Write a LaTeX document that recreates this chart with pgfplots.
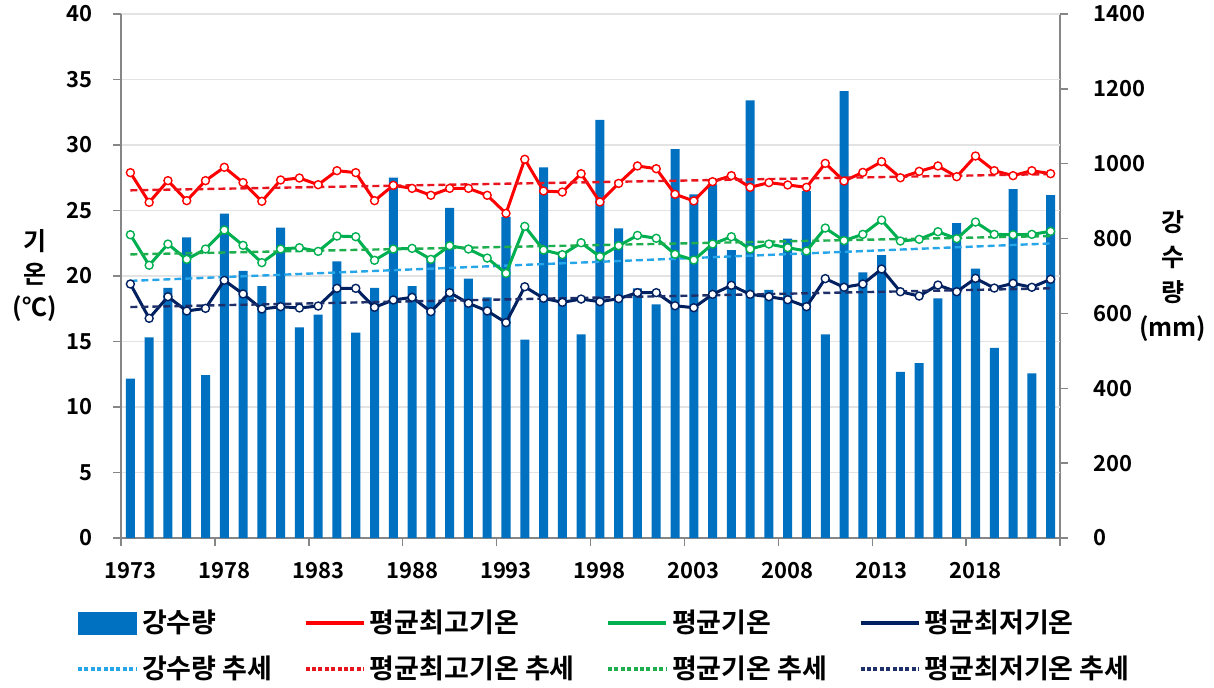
\documentclass[border=0pt]{standalone}
\usepackage{pgfplots}
\pgfplotsset{compat=1.18}
\usepackage{pgfplotstable}
\usepackage{fontspec}
\setmainfont{Noto Sans CJK KR}[BoldFont={Noto Sans CJK KR Bold}]
\definecolor{barblue}{HTML}{0070C0}
\definecolor{cmax}{HTML}{FF0000}
\definecolor{cavg}{HTML}{00B050}
\definecolor{cmin}{HTML}{002060}
\definecolor{trlb}{HTML}{26A5E8}
\definecolor{trmax}{HTML}{E8141E}
\definecolor{travg}{HTML}{1FAE4E}
\definecolor{trmin}{HTML}{1F2F6A}
\definecolor{axisgray}{HTML}{868686}
\definecolor{gridgray}{HTML}{E3E3E3}
\newcommand\ticksfont{\bfseries\fontsize{11}{12}\selectfont}
\newcommand\legfont{\bfseries\fontsize{13.5}{15}\selectfont}

\pgfplotstableread{
year rain tmax tavg tmin
1973 426 27.89 23.15 19.39
1974 536 25.62 20.82 16.77
1975 668 27.28 22.44 18.42
1976 803 25.75 21.27 17.33
1977 435 27.28 22.06 17.53
1978 867 28.30 23.51 19.67
1979 714 27.13 22.34 18.63
1980 673 25.70 21.02 17.48
1981 829 27.33 22.06 17.66
1982 563 27.48 22.16 17.56
1983 597 26.97 21.88 17.71
1984 739 28.04 23.05 19.06
1985 549 27.89 23.00 19.06
1986 668 25.75 21.20 17.61
1987 963 26.92 22.06 18.17
1988 673 26.69 22.11 18.37
1989 748 26.16 21.27 17.28
1990 882 26.69 22.31 18.73
1991 693 26.69 22.06 17.92
1992 643 26.16 21.37 17.33
1993 858 24.78 20.20 16.44
1994 530 28.91 23.79 19.18
1995 990 26.49 21.98 18.30
1996 765 26.41 21.63 17.99
1997 544 27.81 22.54 18.24
1998 1117 25.65 21.48 18.04
1999 827 27.07 22.31 18.27
2000 667 28.40 23.10 18.73
2001 624 28.19 22.88 18.73
2002 1039 26.24 21.66 17.73
2003 918 25.73 21.22 17.58
2004 945 27.20 22.44 18.60
2005 769 27.66 23.00 19.29
2006 1169 26.77 22.06 18.60
2007 663 27.13 22.44 18.42
2008 800 26.95 22.16 18.19
2009 927 26.77 21.91 17.66
2010 544 28.60 23.66 19.80
2011 1194 27.25 22.70 19.14
2012 710 27.91 23.18 19.39
2013 756 28.73 24.27 20.53
2014 444 27.50 22.67 18.80
2015 467 27.99 22.80 18.47
2016 640 28.40 23.38 19.31
2017 841 27.58 22.85 18.80
2018 720 29.16 24.12 19.82
2019 508 28.04 23.18 19.08
2020 932 27.66 23.15 19.44
2021 440 28.04 23.18 19.14
2022 916 27.81 23.41 19.75
}\data

\pgfplotsset{
  common/.style={
    width=469.5pt, height=262pt, scale only axis,
    at={(0,0)}, anchor=south west,
    xmin=1972.5, xmax=2022.5,
    axis line style={draw=axisgray, line width=0.7pt},
    tick align=outside, major tick length=4pt,
    tick style={draw=axisgray, line width=0.7pt},
    /pgf/number format/assume math mode=true,
    /pgf/number format/1000 sep={},
  },
  tline/.style={line width=1.5pt, mark=*, mark size=2pt,
    mark options={fill=white, line width=0.7pt, solid}},
  trend/.style={line width=1.2pt, dash pattern=on 3.5pt off 2pt},
}

\begin{document}
\begin{tikzpicture}
% bars (right axis)
\begin{axis}[common, name=ax,
  ymin=0, ymax=1400,
  axis x line*=bottom, axis y line*=right,
  xtick={1972.5,1977.5,1982.5,1987.5,1992.5,1997.5,2002.5,2007.5,2012.5,2017.5,2022.5},
  xticklabels={1973,1978,1983,1988,1993,1998,2003,2008,2013,2018,{}},
  xticklabel style={xshift=4.69pt, yshift=-4.5pt, font=\ticksfont},
  ytick={0,200,...,1400},
  yticklabel style={font=\ticksfont, xshift=9pt},
  extra y ticks={175,350,525,700,875,1050,1225,1400},
  extra y tick labels={},
  extra y tick style={grid=major, major grid style={draw=gridgray, line width=0.7pt}, major tick length=0pt},
  ylabel={강\\수\\량\\(mm)},
  ylabel style={at={(axis description cs:1.12,0.5)}, rotate=-90, anchor=center, align=center,
    font=\bfseries\fontsize{12.5}{17.5}\selectfont},
]
\addplot[ybar, bar width=0.48, fill=barblue, draw=none] table[x=year,y=rain]{\data};
\addplot[trend, trlb] coordinates {(1973,687) (2022,787)};
\end{axis}
% lines (left axis)
\begin{axis}[common,
  ymin=0, ymax=40,
  axis y line*=left, axis x line=none,
  ytick={0,5,...,40},
  yticklabel style={font=\ticksfont, xshift=-6.5pt},
  ylabel={기\\온\\(℃)},
  ylabel style={at={(axis description cs:-0.092,0.5)}, rotate=-90, anchor=center, align=center,
    font=\bfseries\fontsize{12.5}{16.5}\selectfont},
  legend image code/.code={\draw[#1] (0pt,0pt) -- (29pt,0pt);},
  legend columns=4,
  legend style={at={(axis description cs:-0.055,-0.122)}, anchor=north west,
    draw=none, fill=none, font=\legfont, legend cell align=left,
    /tikz/every even column/.append style={column sep=13.5pt},
    row sep=6pt},
]
\addplot[tline, cmax, forget plot] table[x=year,y=tmax]{\data};
\addplot[tline, cavg, forget plot] table[x=year,y=tavg]{\data};
\addplot[tline, cmin, forget plot] table[x=year,y=tmin]{\data};
\addplot[trend, trmax, forget plot] coordinates {(1973,26.54) (2022,27.78)};
\addplot[trend, travg, forget plot] coordinates {(1973,21.65) (2022,23.05)};
\addplot[trend, trmin, forget plot] coordinates {(1973,17.63) (2022,19.06)};
\addlegendimage{legend image code/.code={\fill[barblue] (0pt,-5.5pt) rectangle (29pt,5.5pt);}}
\addlegendentry{강수량}
\addlegendimage{cmax, line width=2.2pt}
\addlegendentry{평균최고기온}
\addlegendimage{cavg, line width=2.2pt}
\addlegendentry{평균기온}
\addlegendimage{cmin, line width=2.2pt}
\addlegendentry{평균최저기온}
\addlegendimage{trlb, line width=2.2pt, dash pattern=on 2pt off 1.2pt}
\addlegendentry{강수량 추세}
\addlegendimage{trmax, line width=2.2pt, dash pattern=on 2pt off 1.2pt}
\addlegendentry{평균최고기온 추세}
\addlegendimage{travg, line width=2.2pt, dash pattern=on 2pt off 1.2pt}
\addlegendentry{평균기온 추세}
\addlegendimage{trmin, line width=2.2pt, dash pattern=on 2pt off 1.2pt}
\addlegendentry{평균최저기온 추세}
\end{axis}
\pgfresetboundingbox
\useasboundingbox ([xshift=-60.5pt,yshift=-74.5pt]ax.south west) rectangle ([xshift=546.5pt,yshift=269pt]ax.south west);
\end{tikzpicture}
\end{document}
